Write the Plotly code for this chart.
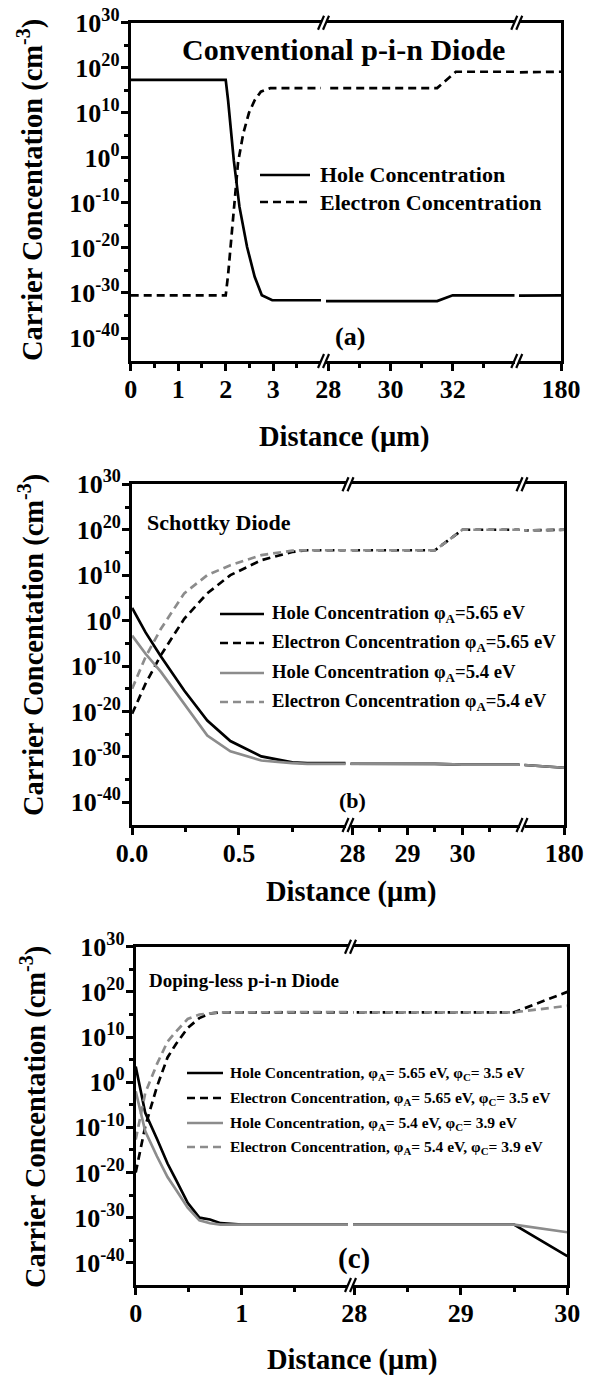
import plotly.graph_objects as go

W, H = 598, 1376
FONT = "Liberation Serif"
GRAY = "#8c8c8c"
PHI = "\u03c6"

# ---------------- data (concentration in cm^-3 vs distance in um) ----------------
# (a) Conventional p-i-n diode
a_hole_x = [0, 2.0, 2.05, 2.17, 2.29, 2.45, 2.61, 2.76, 2.98, 3.5, 31.5, 32.0, 175, 180]
a_hole_y = [2e17, 2e17, 6e12, 0.3, 1.3e-11, 1.6e-20, 4e-27, 3e-31, 2.5e-32, 1.6e-32, 1.6e-32, 3e-31, 3e-31, 3e-31]
a_elec_x = [0, 2.0, 2.05, 2.1, 2.18, 2.26, 2.37, 2.49, 2.61, 2.74, 2.94, 31.5, 32.1, 175, 180]
a_elec_y = [3e-31, 3e-31, 1e-26, 1e-20, 1e-10, 0.1, 2.5e5, 1e10, 6e12, 5e14, 3e15, 3e15, 1.3e19, 1.3e19, 1.3e19]

# (b) Schottky diode
b_x = [0, 0.063, 0.135, 0.244, 0.352, 0.46, 0.605, 0.75, 0.82, 29.5, 30.0, 31.0, 175, 180]
b_hole_565 = [630, 2.5e-3, 1.3e-8, 4e-16, 1e-22, 3e-27, 1.3e-30, 6e-32, 4e-32, 3e-32, 2e-32, 2e-32, 1.6e-32, 4e-33]
b_elec_565 = [3e-21, 1.3e-14, 2.5e-8, 2.5, 1e6, 1e10, 2e13, 1.3e15, 3e15, 3e15, 1e20, 1e20, 1e20, 1e20]
b_hole_54 = [5e-4, 5e-8, 5e-12, 5e-19, 5e-26, 1.6e-29, 1.6e-31, 4e-32, 3e-32, 3e-32, 2e-32, 2e-32, 1.6e-32, 4e-33]
b_elec_54 = [1e-15, 1e-8, 1.6e-2, 1e6, 1e10, 1.6e12, 2.5e14, 2.5e15, 3e15, 3e15, 1e20, 1e20, 1e20, 1e20]

# (c) Doping-less p-i-n diode
c_x = [0, 0.09, 0.2, 0.3, 0.38, 0.49, 0.6, 0.7, 0.8, 1.0, 29.5, 30.0]
c_hole_565 = [3e3, 1.6e-7, 3e-13, 1e-18, 2.5e-22, 2e-27, 1e-30, 4e-31, 6e-32, 3e-32, 3e-32, 3e-39]
c_elec_565 = [1e-20, 1.6e-10, 0.1, 3e5, 3e8, 1e12, 1.6e14, 1.6e15, 3e15, 3e15, 3e15, 1e20]
c_hole_54 = [1e-2, 1.3e-11, 4e-17, 1e-21, 1.6e-24, 1.6e-28, 2.5e-31, 6e-32, 3e-32, 3e-32, 3e-32, 6e-34]
c_elec_54 = [2e-13, 4e-3, 1e4, 1e9, 1.6e11, 1e14, 1e15, 2e15, 3e15, 3e15, 3e15, 8e16]

y_tick_exp = [30, 20, 10, 0, -10, -20, -30, -40]
y_minor_exp = [25, 15, 5, -5, -15, -25, -35]

# ---------------- layout geometry (pixels) ----------------
panels = [
    dict(top=22.7, bottom=361, yr=[-45.1, 30],
         segs=[dict(l=130.7, r=321.0, range=[0, 4.006], tv=[0, 1, 2, 3], tt=["0", "1", "2", "3"], mv=[0.5, 1.5, 2.5, 3.5]),
               dict(l=326.0, r=514.5, range=[27.926, 33.987], tv=[28, 30, 32], tt=["28", "30", "32"], mv=[29, 31, 33]),
               dict(l=519.0, r=561.0, range=[175, 180], tv=[180], tt=["180"], mv=[])],
         traces=[(a_hole_x, a_hole_y, "black", "solid"), (a_elec_x, a_elec_y, "black", "dash")]),
    dict(top=484.3, bottom=825, yr=[-45, 30],
         segs=[dict(l=132.1, r=345.5, range=[0, 0.999], tv=[0, 0.5], tt=["0.0", "0.5"], mv=[0.25, 0.75]),
               dict(l=350.5, r=519.5, range=[27.964, 31.037], tv=[28, 29, 30], tt=["28", "29", "30"], mv=[28.5, 29.5, 30.5]),
               dict(l=524.5, r=564.3, range=[175, 180], tv=[180], tt=["180"], mv=[])],
         traces=[(b_x, b_hole_565, "black", "solid"), (b_x, b_elec_565, "black", "dash"),
                 (b_x, b_hole_54, GRAY, "solid"), (b_x, b_elec_54, GRAY, "dash")]),
    dict(top=946.7, bottom=1285, yr=[-44.9, 30],
         segs=[dict(l=135.7, r=348.0, range=[0, 2.001], tv=[0, 1], tt=["0", "1"], mv=[0.5, 1.5]),
               dict(l=353.0, r=567.3, range=[27.988, 30.0], tv=[28, 29, 30], tt=["28", "29", "30"], mv=[28.5, 29.5])],
         traces=[(c_x, c_hole_565, "black", "solid"), (c_x, c_elec_565, "black", "dash"),
                 (c_x, c_hole_54, GRAY, "solid"), (c_x, c_elec_54, GRAY, "dash")]),
]

fig = go.Figure()
layout = {}
shapes = []
annotations = []

def px(p):
    return p / W

def py(p):
    return 1 - p / H

k = 0
for pan in panels:
    nseg = len(pan["segs"])
    for si, seg in enumerate(pan["segs"]):
        k += 1
        xa = "xaxis" if k == 1 else f"xaxis{k}"
        ya = "yaxis" if k == 1 else f"yaxis{k}"
        xr = "x" if k == 1 else f"x{k}"
        yr = "y" if k == 1 else f"y{k}"
        layout[xa] = dict(
            domain=[px(seg["l"]), px(seg["r"])], range=seg["range"], anchor=yr, automargin=False,
            showline=True, linewidth=3, linecolor="black", mirror=True,
            ticks="outside", ticklen=7, tickwidth=2.5, tickcolor="black",
            tickmode="array", tickvals=seg["tv"], ticktext=seg["tt"], ticklabelstandoff=-4,
            tickfont=dict(family=FONT, size=26, color="black", weight="bold"),
            minor=dict(ticks="outside", tickmode="array", tickvals=seg["mv"], ticklen=4, tickwidth=2.5, tickcolor="black"),
            showgrid=False, zeroline=False,
        )
        yd = dict(
            domain=[py(pan["bottom"]), py(pan["top"])], type="log", range=pan["yr"], anchor=xr,
            showgrid=False, zeroline=False, automargin=False,
        )
        if si == 0:
            yd.update(showline=True, linewidth=3, linecolor="black", mirror=False,
                      ticks="outside", ticklen=7, tickwidth=2.5, tickcolor="black",
                      tickmode="array", tickvals=[10.0 ** e for e in y_tick_exp],
                      ticktext=[f"10<sup>{e}</sup>" for e in y_tick_exp], ticklabelstandoff=-4,
                      tickfont=dict(family=FONT, size=26, color="black", weight="bold"),
                      minor=dict(ticks="outside", tickmode="array", tickvals=[10.0 ** e for e in y_minor_exp],
                                 ticklen=4, tickwidth=2.5, tickcolor="black"))
        elif si == nseg - 1:
            yd.update(showline=True, linewidth=3, linecolor="black", side="right",
                      showticklabels=False, ticks="")
        else:
            yd.update(showline=False, showticklabels=False, ticks="")
        layout[ya] = yd
        for (tx, ty, col, dash) in pan["traces"]:
            fig.add_trace(go.Scatter(
                x=tx, y=ty, xaxis=xr, yaxis=yr, mode="lines", showlegend=False,
                line=dict(color=col, width=2.7, dash="8px,5px" if dash == "dash" else "solid"),
                hoverinfo="skip"))
    # break marks
    for si in range(nseg - 1):
        xc = (pan["segs"][si]["r"] + pan["segs"][si + 1]["l"]) / 2
        for yb in (pan["top"], pan["bottom"]):
            for off in (-2.5, 2.5):
                shapes.append(dict(type="line", xref="paper", yref="paper",
                                   x0=px(xc + off - 3), y0=py(yb + 7), x1=px(xc + off + 3), y1=py(yb - 7),
                                   line=dict(color="black", width=2.2)))

def ann(text, x, y, size, xanchor="center", angle=0, color="black"):
    annotations.append(dict(text=text, x=px(x), y=py(y), xref="paper", yref="paper", showarrow=False,
                            xanchor=xanchor, yanchor="middle", textangle=angle,
                            font=dict(family=FONT, size=size, color=color, weight="bold")))

ytitle = "Carrier Concentation (cm<sup>-3</sup>)"
# axis titles
ann(ytitle, 30, 190, 28.5, angle=-90)
ann(ytitle, 31, 645, 28.5, angle=-90)
ann(ytitle, 33, 1117, 28.5, angle=-90)
ann("Distance (\u03bcm)", 345, 437, 28.5)
ann("Distance (\u03bcm)", 351, 892, 28.5)
ann("Distance (\u03bcm)", 352, 1360, 28.5)

# panel texts
ann("Conventional p-i-n Diode", 180, 49, 30, xanchor="left")
ann("(a)", 350, 336, 26)
ann("Schottky Diode", 145, 523, 22, xanchor="left")
ann("(b)", 352, 800, 22)
ann("Doping-less p-i-n Diode", 147, 980, 19, xanchor="left")
ann("(c)", 354, 1258, 29)

# legends (sample line + label)
def leg(x0, x1, y, col, dash, text, size, gap=6):
    shapes.append(dict(type="line", xref="paper", yref="paper", x0=px(x0), x1=px(x1), y0=py(y), y1=py(y),
                       line=dict(color=col, width=2.7, dash="8px,5px" if dash == "dash" else "solid")))
    ann(text, x1 + gap, y, size, xanchor="left")

leg(260, 310, 175, "black", "solid", "Hole Concentration", 22, 8)
leg(260, 310, 202, "black", "dash", "Electron Concentration", 22, 8)

leg(220, 264, 614, "black", "solid", f"Hole Concentration {PHI}<sub>A</sub>=5.65 eV", 18.7)
leg(220, 264, 643, "black", "dash", f"Electron Concentration {PHI}<sub>A</sub>=5.65 eV", 18.7)
leg(220, 264, 673, GRAY, "solid", f"Hole Concentration {PHI}<sub>A</sub>=5.4 eV", 18.7)
leg(220, 264, 702, GRAY, "dash", f"Electron Concentration {PHI}<sub>A</sub>=5.4 eV", 18.7)

leg(187, 223, 1073, "black", "solid", f"Hole Concentration, {PHI}<sub>A</sub>= 5.65 eV, {PHI}<sub>C</sub>= 3.5 eV", 15.5, 5)
leg(187, 223, 1098, "black", "dash", f"Electron Concentration, {PHI}<sub>A</sub>= 5.65 eV, {PHI}<sub>C</sub>= 3.5 eV", 15.5, 5)
leg(187, 223, 1123, GRAY, "solid", f"Hole Concentration, {PHI}<sub>A</sub>= 5.4 eV, {PHI}<sub>C</sub>= 3.9 eV", 15.5, 5)
leg(187, 223, 1147, GRAY, "dash", f"Electron Concentration, {PHI}<sub>A</sub>= 5.4 eV, {PHI}<sub>C</sub>= 3.9 eV", 15.5, 5)

fig.update_layout(**layout)
fig.update_layout(
    width=W, height=H, margin=dict(l=0, r=0, t=0, b=0, pad=0, autoexpand=False),
    paper_bgcolor="white", plot_bgcolor="white",
    shapes=shapes, annotations=annotations, showlegend=False,
    font=dict(family=FONT, color="black"),
)
fig.write_html("out.html")
